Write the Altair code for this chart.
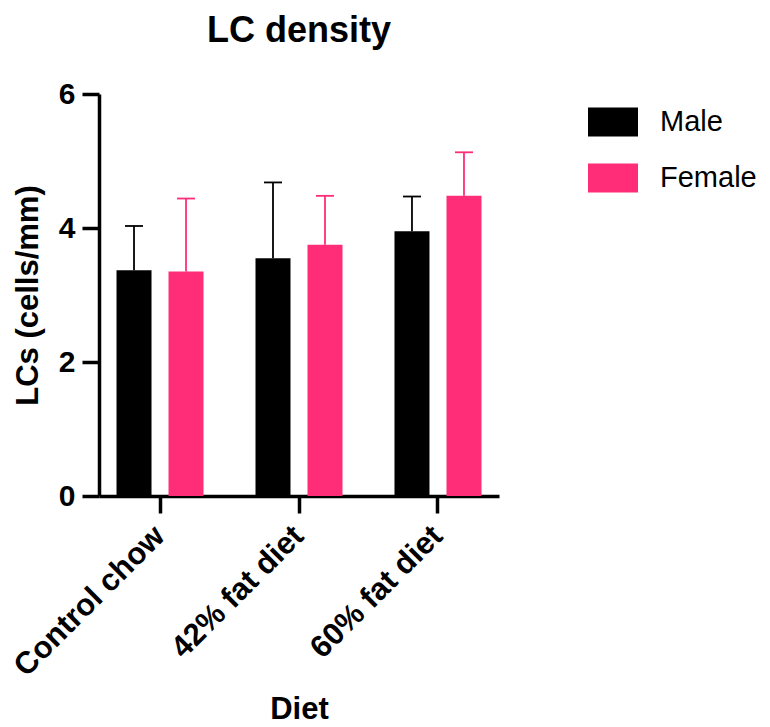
import altair as alt
import pandas as pd

diets = ["Control chow", "42% fat diet", "60% fat diet"]
sexes = ["Male", "Female"]
male_mean = [3.37, 3.55, 3.95]
male_err = [0.66, 1.13, 0.52]
female_mean = [3.35, 3.75, 4.48]
female_err = [1.09, 0.73, 0.65]
colors = ["#000000", "#FF2D78"]

rows = []
for d, m, e in zip(diets, male_mean, male_err):
    rows.append({"Diet": d, "Sex": "Male", "mean": m, "upper": m + e})
for d, m, e in zip(diets, female_mean, female_err):
    rows.append({"Diet": d, "Sex": "Female", "mean": m, "upper": m + e})
df = pd.DataFrame(rows)

FONT = "Liberation Sans"

x_enc = alt.X(
    "Diet:N",
    sort=diets,
    scale=alt.Scale(paddingInner=0.374, paddingOuter=0.126),
    axis=alt.Axis(
        title="Diet",
        labelAngle=-45,
        labelAlign="right",
        labelBaseline="middle",
        labelPadding=18,
        labelFontSize=31,
        labelLimit=400,
        titleY=222,
        titleBaseline="alphabetic",
    ),
)
xo_enc = alt.XOffset(
    "Sex:N", sort=sexes, scale=alt.Scale(paddingInner=0.327, paddingOuter=0)
)
color_enc = alt.Color(
    "Sex:N",
    sort=sexes,
    scale=alt.Scale(domain=sexes, range=colors),
    legend=alt.Legend(
        title=None,
        orient="none",
        legendX=489,
        legendY=3,
        symbolType="M-1,-0.58L1,-0.58L1,0.58L-1,0.58Z",
        symbolSize=2500,
        symbolStrokeWidth=0,
        symbolOpacity=1,
        labelFontSize=29,
        labelFont=FONT,
        labelOffset=22,
        labelLimit=300,
        rowPadding=16,
        labelColor="#000000",
    ),
)
y_scale = alt.Scale(domain=[0, 6], nice=False)

bars = alt.Chart(df).mark_bar(opacity=1).encode(
    x=x_enc,
    xOffset=xo_enc,
    y=alt.Y(
        "mean:Q",
        scale=y_scale,
        axis=alt.Axis(
            title="LCs (cells/mm)",
            values=[0, 2, 4, 6],
            format="d",
            titlePadding=14,
            labelFontSize=30,
            labelPadding=7,
        ),
    ),
    color=color_enc,
)

rules = alt.Chart(df).mark_rule(strokeWidth=1.8).encode(
    x=x_enc,
    xOffset=xo_enc,
    y=alt.Y("mean:Q", scale=y_scale),
    y2="upper:Q",
    color=alt.Color("Sex:N", scale=alt.Scale(domain=sexes, range=colors), legend=None),
)

caps = alt.Chart(df).mark_tick(size=18, thickness=1.8, opacity=1).encode(
    x=x_enc,
    xOffset=xo_enc,
    y=alt.Y("upper:Q", scale=y_scale),
    color=alt.Color("Sex:N", scale=alt.Scale(domain=sexes, range=colors), legend=None),
)

chart = (
    alt.layer(bars, rules, caps)
    .properties(
        width=400,
        height=402,
        title=alt.TitleParams(
            "LC density",
            fontSize=36,
            font=FONT,
            fontWeight="bold",
            anchor="middle",
            frame="group",
            color="#000000",
            offset=1,
            baseline="alphabetic",
        ),
        autosize=alt.AutoSizeParams(type="none"),
        padding={"left": 91, "top": 86, "right": 262, "bottom": 231},
    )
    .configure_view(stroke=None)
    .configure_axis(
        grid=False,
        domainColor="#000000",
        domainWidth=3.5,
        tickColor="#000000",
        tickWidth=3.5,
        tickSize=17,
        labelFont=FONT,
        labelFontWeight="bold",
        labelColor="#000000",
        titleFont=FONT,
        titleFontSize=31,
        titleFontWeight="bold",
        titleColor="#000000",
    )
)

chart.save("out.html", embed_options={"renderer": "svg", "actions": False})
